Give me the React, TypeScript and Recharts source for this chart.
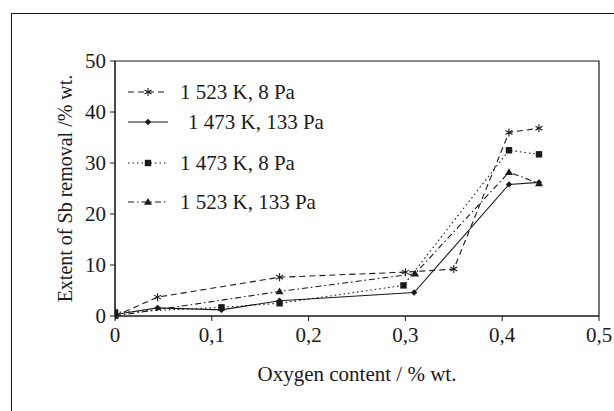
import React from 'react'
import { LineChart, Line, XAxis, YAxis, ReferenceArea } from 'recharts'

const xTicks = [0, 0.1, 0.2, 0.3, 0.4, 0.5]
const yTicks = [0, 10, 20, 30, 40, 50]

const x1523k8 = [0, 0.044, 0.17, 0.3, 0.35, 0.407, 0.438]
const y1523k8 = [0, 3.7, 7.6, 8.6, 9.2, 36.0, 36.8]

const x1473k133 = [0, 0.044, 0.11, 0.17, 0.309, 0.407, 0.438]
const y1473k133 = [0.3, 1.6, 1.2, 3.0, 4.6, 25.8, 26.2]

const x1473k8 = [0, 0.11, 0.17, 0.298, 0.407, 0.438]
const y1473k8 = [0.7, 1.7, 2.5, 6.0, 32.5, 31.7]

const x1523k133 = [0, 0.17, 0.31, 0.407, 0.438]
const y1523k133 = [0, 4.8, 8.3, 28.2, 26.0]

const zip = (xs: number[], ys: number[]) => xs.map((x, i) => ({ x, y: ys[i] }))

const INK = '#1a1a1a'
const FONT = '"Liberation Serif", "Times New Roman", serif'

type Shape = 'star' | 'diamond' | 'square' | 'triangle'

function Marker({ shape, cx, cy }: { shape: Shape; cx: number; cy: number }) {
  if (shape === 'star') {
    const r = 4
    return (
      <g stroke={INK} strokeWidth={1.1}>
        <line x1={cx} y1={cy - r} x2={cx} y2={cy + r} />
        <line x1={cx - r * 0.87} y1={cy - r / 2} x2={cx + r * 0.87} y2={cy + r / 2} />
        <line x1={cx - r * 0.87} y1={cy + r / 2} x2={cx + r * 0.87} y2={cy - r / 2} />
      </g>
    )
  }
  if (shape === 'diamond') {
    const r = 3.2
    return <polygon points={`${cx},${cy - r} ${cx + r},${cy} ${cx},${cy + r} ${cx - r},${cy}`} fill={INK} />
  }
  if (shape === 'square') {
    const r = 3.2
    return <rect x={cx - r} y={cy - r} width={r * 2} height={r * 2} fill={INK} />
  }
  const r = 4
  return <polygon points={`${cx},${cy - r} ${cx + r},${cy + r * 0.7} ${cx - r},${cy + r * 0.7}`} fill={INK} />
}

const makeDot = (shape: Shape) => (props: any) => {
  const { cx, cy, key, index } = props
  if (cx == null || cy == null) return <g key={key ?? index} />
  return (
    <g key={key ?? `${shape}-${index}`}>
      <Marker shape={shape} cx={cx} cy={cy} />
    </g>
  )
}

const series = [
  { name: '1 523 K, 8 Pa', data: zip(x1523k8, y1523k8), dash: '6 4', shape: 'star' as Shape, indent: 0, top: 0 },
  { name: '1 473 K, 133 Pa', data: zip(x1473k133, y1473k133), dash: undefined, shape: 'diamond' as Shape, indent: 8, top: 30 },
  { name: '1 473 K, 8 Pa', data: zip(x1473k8, y1473k8), dash: '1.5 3', shape: 'square' as Shape, indent: 0, top: 71 },
  { name: '1 523 K, 133 Pa', data: zip(x1523k133, y1523k133), dash: '6 3 1.5 3', shape: 'triangle' as Shape, indent: 0, top: 110 },
]

function LegendBox() {
  return (
    <div style={{ position: 'absolute', left: 126, top: 80, width: 240, height: 140 }}>
      {series.map((s) => (
        <div key={s.name} style={{ position: 'absolute', left: 0, top: s.top, display: 'flex', alignItems: 'center', height: 24 }}>
          <svg width={44} height={12}>
            <line x1={2} y1={6} x2={42} y2={6} stroke={INK} strokeWidth={1.1} strokeDasharray={s.dash} />
            <Marker shape={s.shape} cx={22} cy={6} />
          </svg>
          <span
            style={{
              fontFamily: FONT,
              fontSize: 21,
              color: INK,
              marginLeft: 10 + s.indent,
              whiteSpace: 'nowrap',
              lineHeight: '24px',
            }}
          >
            {s.name}
          </span>
        </div>
      ))}
    </div>
  )
}

const fmt = (v: number) => (v === 0 ? '0' : v.toFixed(1).replace('.', ','))

export default function App() {
  return (
    <div style={{ position: 'absolute', top: 0, left: 0, width: 614, height: 411, background: '#fff', overflow: 'hidden' }}>
      <div
        style={{
          position: 'absolute',
          left: 11,
          top: 13,
          width: 620,
          height: 420,
          borderLeft: `1px solid ${INK}`,
          borderTop: `1px solid ${INK}`,
        }}
      />
      <LineChart width={614} height={411} margin={{ top: 61, right: 15, bottom: 65, left: 55 }}>
        <XAxis
          xAxisId="b"
          type="number"
          dataKey="x"
          domain={[0, 0.5]}
          ticks={xTicks}
          tickFormatter={fmt}
          allowDataOverflow
          stroke={INK}
          tickSize={5}
          tickMargin={6}
          height={30}
          tick={{ fill: INK, fontSize: 21, fontFamily: FONT }}
          label={{ value: 'Oxygen content / % wt.', position: 'bottom', offset: 20, fill: INK, fontSize: 21, fontFamily: FONT }}
        />
        <YAxis
          yAxisId="l"
          type="number"
          domain={[0, 50]}
          ticks={yTicks}
          stroke={INK}
          tickSize={5}
          tickMargin={4}
          width={60}
          tick={{ fill: INK, fontSize: 21, fontFamily: FONT }}
          label={{
            value: 'Extent of Sb removal /% wt.',
            angle: -90,
            position: 'insideLeft',
            offset: 10,
            style: { textAnchor: 'middle' },
            fill: INK,
            fontSize: 20,
            fontFamily: FONT,
          }}
        />
        <ReferenceArea
          xAxisId="b"
          yAxisId="l"
          x1={0}
          x2={0.5}
          y1={0}
          y2={50}
          fill="none"
          stroke={INK}
          strokeWidth={1.2}
          ifOverflow="visible"
        />
        {series.map((s) => (
          <Line
            key={s.name}
            xAxisId="b"
            yAxisId="l"
            data={s.data}
            dataKey="y"
            name={s.name}
            type="linear"
            stroke={INK}
            strokeWidth={1.1}
            strokeDasharray={s.dash}
            dot={makeDot(s.shape)}
            activeDot={false}
            isAnimationActive={false}
          />
        ))}
      </LineChart>
      <LegendBox />
    </div>
  )
}
